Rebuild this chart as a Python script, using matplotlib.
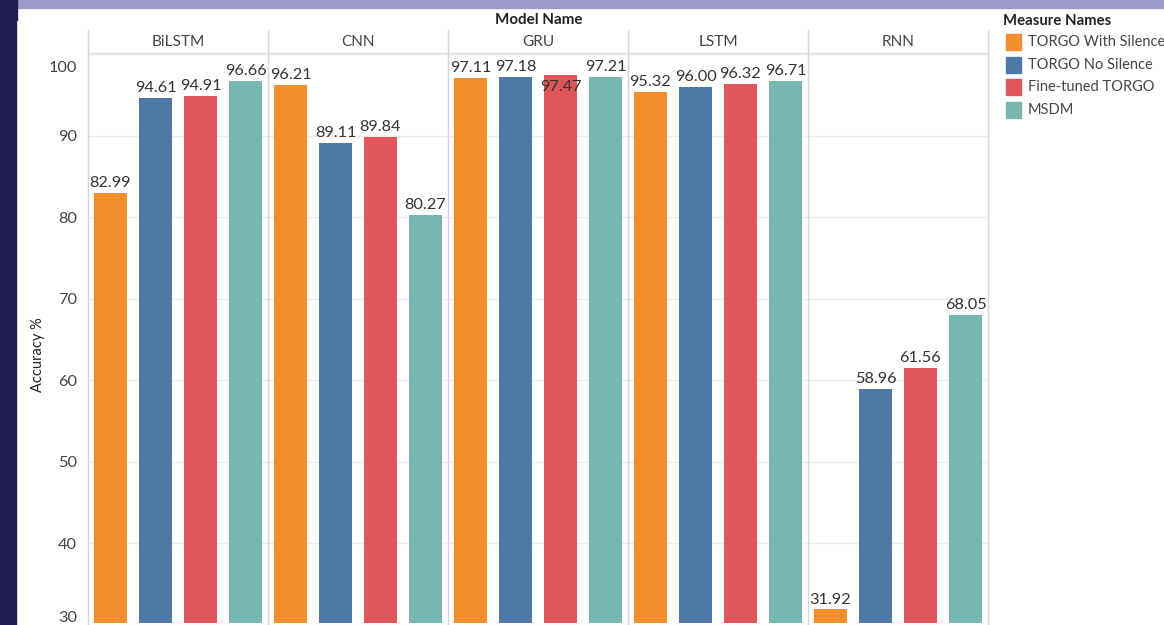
import matplotlib
matplotlib.use("Agg")
import matplotlib.pyplot as plt
import matplotlib.patches as mpatches
import matplotlib.transforms as mtrans

plt.rcParams['font.family'] = ['Lato', 'DejaVu Sans']

# data
models = ['BiLSTM', 'CNN', 'GRU', 'LSTM', 'RNN']
measures = ['TORGO With Silence', 'TORGO No Silence', 'Fine-tuned TORGO', 'MSDM']
colors = ['#f28e2b', '#4e79a7', '#e15759', '#76b7b2']
with_silence = [82.99, 96.21, 97.11, 95.32, 31.92]
no_silence = [94.61, 89.11, 97.18, 96.00, 58.96]
fine_tuned = [94.91, 89.84, 97.47, 96.32, 61.56]
msdm = [96.66, 80.27, 97.21, 96.71, 68.05]
series = [with_silence, no_silence, fine_tuned, msdm]
yticks = [30, 40, 50, 60, 70, 80, 90, 100]

W, H = 1164, 625
fig = plt.figure(figsize=(W / 100, H / 100), dpi=100)
fig.patch.set_facecolor('white')


def fx(x):
    return x / W


def fy(y):
    # y measured from top of image in pixels
    return 1 - y / H


# frame decoration: purple strip on top, navy strip on the left
fig.patches.append(mpatches.Rectangle((fx(16), fy(8)), 1, 8 / H, transform=fig.transFigure,
                                      color='#9d99cb', zorder=0))
fig.patches.append(mpatches.Rectangle((0, 0), fx(15.5), 1, transform=fig.transFigure,
                                      color='#201d50', zorder=0))
fig.patches.append(mpatches.Rectangle((0, fy(20)), fx(17), 20 / H, transform=fig.transFigure,
                                      color='#201d50', zorder=0))

left0, pw = 88, 180
top, bottom = 54, 625
ymin, ymax = 30.2, 100
sep = '#d4d4d4'
txt = '#333333'
vfs = 11.7

axes = []
for i, m in enumerate(models):
    ax = fig.add_axes([fx(left0 + i * pw), 0, fx(pw), fy(top)])
    axes.append(ax)
    ax.set_xlim(-0.5, 3.5)
    ax.set_ylim(ymin, ymax)
    for s in ax.spines.values():
        s.set_visible(False)
    ax.set_xticks([])
    ax.set_yticks(yticks)
    ax.grid(axis='y', color='#ececec', lw=1)
    ax.set_axisbelow(True)
    ax.tick_params(axis='y', length=0, labelsize=11.8, labelcolor='#444444', pad=8)
    if i > 0:
        ax.set_yticklabels([])
    for j in range(4):
        v = series[j][i]
        ax.bar(j, v - ymin, bottom=ymin, width=0.73, color=colors[j], zorder=2)
        if m == 'GRU' and j == 2:
            ax.annotate(f'{v:.2f}', (j, v), xytext=(0, -4), textcoords='offset points',
                        ha='center', va='top', fontsize=vfs, color=txt, zorder=3)
        else:
            ax.annotate(f'{v:.2f}', (j, v), xytext=(0, 2), textcoords='offset points',
                        ha='center', va='bottom', fontsize=vfs, color=txt, zorder=3)
    fig.text(fx(left0 + i * pw + pw / 2), fy(42), m, ha='center', va='center',
             fontsize=11.1, color='#444444')

# nudge the 100 and 30 labels inside the pane like the reference
for lab in axes[0].get_yticklabels():
    if lab.get_text() in ('100',):
        lab.set_transform(lab.get_transform() + mtrans.ScaledTranslation(0, -12 / 100, fig.dpi_scale_trans))
    if lab.get_text() in ('30',):
        lab.set_transform(lab.get_transform() + mtrans.ScaledTranslation(0, 9 / 100, fig.dpi_scale_trans))

# panel separators and header lines
for k in range(len(models) + 1):
    x = fx(left0 + k * pw)
    fig.add_artist(plt.Line2D([x, x], [fy(30), 0], transform=fig.transFigure, color=sep, lw=1))
fig.add_artist(plt.Line2D([fx(left0), fx(left0 + 5 * pw)], [fy(53), fy(53)],
                          transform=fig.transFigure, color='#e3e3e3', lw=1))

fig.text(fx(539), fy(20), 'Model Name', ha='center', va='center', fontsize=10.9,
         fontweight='bold', color='#222222')
fig.text(fx(38), fy(355), 'Accuracy %', ha='center', va='center', rotation=90,
         fontsize=10.5, color='#222222')

# legend
fig.text(fx(1003), fy(21), 'Measure Names', ha='left', va='center', fontsize=10.7,
         fontweight='bold', color='#222222')
for j, name in enumerate(measures):
    yc = 42 + j * 22.7
    fig.patches.append(mpatches.Rectangle((fx(1006), fy(yc + 8)), fx(15), 16 / H,
                                          transform=fig.transFigure, color=colors[j]))
    fig.text(fx(1028), fy(yc), name, ha='left', va='center', fontsize=10.5, color='#444444')

fig.savefig('out.png', dpi=100)
